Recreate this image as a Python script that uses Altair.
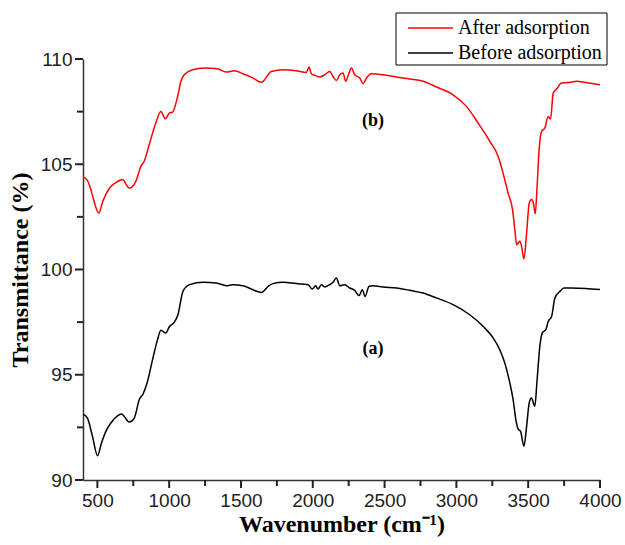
import altair as alt
import pandas as pd

# Wavenumber (cm-1) and transmittance (%)
wn_before = [400, 431, 466, 501, 529, 559, 594, 640, 668, 687, 722, 757, 792, 819, 849,
             884, 919, 942, 977, 1000, 1035, 1061, 1096, 1142, 1235, 1328, 1398, 1444, 1514,
             1583, 1642, 1695, 1723, 1793, 1886, 1967, 1997, 2020, 2036, 2060, 2083, 2118,
             2141, 2164, 2188, 2222, 2257, 2292, 2322, 2345, 2364, 2392, 2420, 2489, 2583,
             2675, 2768, 2861, 2977, 3093, 3186, 3256, 3302, 3337, 3372, 3395, 3414, 3430,
             3447, 3470, 3489, 3507, 3523, 3546, 3562, 3581, 3600, 3623, 3639, 3663, 3686,
             3721, 3749, 3800, 3900, 4000]
tr_before = [93.13, 92.94, 92.07, 91.15, 91.76, 92.31, 92.71, 93.05, 93.13, 93.02, 92.75,
             92.94, 93.82, 94.10, 94.68, 95.71, 96.67, 97.11, 96.98, 97.27, 97.49, 97.85,
             98.96, 99.28, 99.39, 99.36, 99.23, 99.28, 99.23, 99.04, 98.91, 99.23, 99.33,
             99.39, 99.33, 99.28, 99.07, 99.23, 99.07, 99.28, 99.17, 99.28, 99.39, 99.60,
             99.23, 99.28, 99.12, 99.01, 98.76, 99.04, 98.72, 99.20, 99.23, 99.17, 99.12,
             99.01, 98.88, 98.65, 98.33, 97.85, 97.30, 96.75, 96.19, 95.56, 94.61, 93.82,
             92.87, 92.42, 92.31, 91.60, 92.55, 93.66, 93.89, 93.50, 94.76, 96.35, 97.01,
             97.14, 97.53, 97.77, 98.65, 98.96, 99.12, 99.12, 99.10, 99.05]

wn_after = [400, 427, 455, 468, 510, 538, 585, 631, 675, 722, 768, 803, 826, 861, 907,
            942, 973, 1001, 1024, 1059, 1082, 1105, 1163, 1245, 1337, 1395, 1454, 1514,
            1583, 1642, 1711, 1793, 1886, 1955, 1974, 1990, 2020, 2048, 2083, 2118, 2141,
            2164, 2188, 2211, 2229, 2252, 2269, 2292, 2327, 2350, 2374, 2408, 2489, 2583,
            2675, 2768, 2861, 2977, 3070, 3151, 3233, 3291, 3325, 3360, 3391, 3407, 3419,
            3442, 3454, 3470, 3489, 3507, 3523, 3535, 3549, 3562, 3576, 3593, 3616, 3639,
            3656, 3674, 3698, 3732, 3780, 3837, 3900, 4000]
tr_after = [104.38, 104.27, 103.79, 103.47, 102.68, 103.24, 103.87, 104.14, 104.27, 103.87,
            104.19, 104.90, 105.14, 105.93, 106.96, 107.51, 107.16, 107.43, 107.48, 108.22,
            108.94, 109.25, 109.49, 109.57, 109.54, 109.38, 109.44, 109.30, 109.10, 108.89,
            109.41, 109.49, 109.44, 109.36, 109.62, 109.30, 109.21, 109.14, 109.25, 109.41,
            109.17, 108.98, 109.25, 109.33, 108.94, 109.33, 109.57, 109.25, 109.10, 108.83,
            109.10, 109.30, 109.25, 109.14, 109.05, 108.94, 108.67, 108.30, 107.75, 106.96,
            106.09, 105.37, 104.58, 103.63, 102.84, 101.89, 101.18, 101.34, 101.10, 100.50,
            101.73, 103.15, 103.32, 103.20, 102.65, 103.95, 105.69, 106.56, 106.72, 107.27,
            107.15, 108.38, 108.57, 108.86, 108.88, 108.94, 108.88, 108.78]

series_names = ["After adsorption", "Before adsorption"]
series_colors = ["#ff0000", "#000000"]

label_text = ["(b)", "(a)"]
label_wn = [2420, 2420]
label_tr = [107.04, 96.24]

x_major = [500, 1000, 1500, 2000, 2500, 3000, 3500, 4000]
x_minor = [750, 1250, 1750, 2250, 2750, 3250, 3750]
y_major = [90, 95, 100, 105, 110]
y_minor = [92.5, 97.5, 102.5, 107.5]

df = pd.concat([
    pd.DataFrame({"wn": wn_after, "tr": tr_after, "series": series_names[0]}),
    pd.DataFrame({"wn": wn_before, "tr": tr_before, "series": series_names[1]}),
])
labels_df = pd.DataFrame({"wn": label_wn, "tr": label_tr, "text": label_text})

x_scale = alt.Scale(domain=[400, 4000], nice=False, zero=False)
y_scale = alt.Scale(domain=[90, 110], nice=False, zero=False)

axis_common = dict(
    grid=False, ticks=False, domainColor="#333333", domainWidth=1.5,
    labelFont="Liberation Sans", labelFontSize=19,
    labelColor="#222222", titleFont="Liberation Serif", titleFontWeight="bold",
    titleFontSize=24, titleColor="#000000",
)

lines = alt.Chart(df).mark_line(strokeWidth=1.5, interpolate="monotone").encode(
    x=alt.X("wn:Q", scale=x_scale,
            axis=alt.Axis(title="Wavenumber (cm⁻¹)", values=x_major, format="d",
                          labelPadding=11, titlePadding=2, labelFlush=False,
                          **axis_common)),
    y=alt.Y("tr:Q", scale=y_scale,
            axis=alt.Axis(title="Transmittance (%)", values=y_major, format="d",
                          labelPadding=11, titlePadding=8, labelFlush=False,
                          **axis_common)),
    color=alt.Color("series:N",
                    scale=alt.Scale(domain=series_names, range=series_colors),
                    legend=None),
    detail="series:N",
)


# Tick marks drawn as rules through the same scales (major longer than minor)
def x_ticks(vals, length):
    return alt.Chart(pd.DataFrame({"wn": vals})).mark_rule(
        color="#222222", strokeWidth=2
    ).encode(x=alt.X("wn:Q", scale=x_scale), y=alt.value(421), y2=alt.value(421 + length))


def y_ticks(vals, length):
    return alt.Chart(pd.DataFrame({"tr": vals})).mark_rule(
        color="#222222", strokeWidth=2
    ).encode(y=alt.Y("tr:Q", scale=y_scale), x=alt.value(-length), x2=alt.value(0))


ticks = [x_ticks(x_major, 8), x_ticks(x_minor, 6), y_ticks(y_major, 8), y_ticks(y_minor, 6)]

texts = alt.Chart(labels_df).mark_text(
    font="Liberation Serif", fontWeight="bold", fontSize=18, color="#000000"
).encode(
    x=alt.X("wn:Q", scale=x_scale),
    y=alt.Y("tr:Q", scale=y_scale),
    text="text:N",
)

# Hand-drawn legend (box, line samples, labels) placed above the plot's top-right
legend_box = alt.Chart(pd.DataFrame({"k": [0]})).mark_rect(
    fill="white", stroke="#000000", strokeWidth=1
).encode(x=alt.value(313), x2=alt.value(524), y=alt.value(-46), y2=alt.value(6))

legend_parts = [legend_box]
for i, (name, col) in enumerate(zip(series_names, series_colors)):
    yy = -31 + 25 * i
    legend_parts.append(
        alt.Chart(pd.DataFrame({"k": [0]})).mark_rule(color=col, strokeWidth=1.5).encode(
            x=alt.value(325), x2=alt.value(370), y=alt.value(yy))
    )
    legend_parts.append(
        alt.Chart(pd.DataFrame({"k": [0]})).mark_text(
            text=name, font="Liberation Serif", fontSize=20, color="#000000",
            align="left", baseline="middle"
        ).encode(x=alt.value(375), y=alt.value(yy))
    )

chart = alt.layer(lines, *ticks, texts, *legend_parts).properties(
    width=517, height=421,
    background="white",
    autosize=alt.AutoSizeParams(type="none"),
    padding={"left": 83, "top": 59, "right": 25, "bottom": 65},
).configure_view(stroke=None)

chart.save("out.html", embed_options={"renderer": "svg", "actions": False})
